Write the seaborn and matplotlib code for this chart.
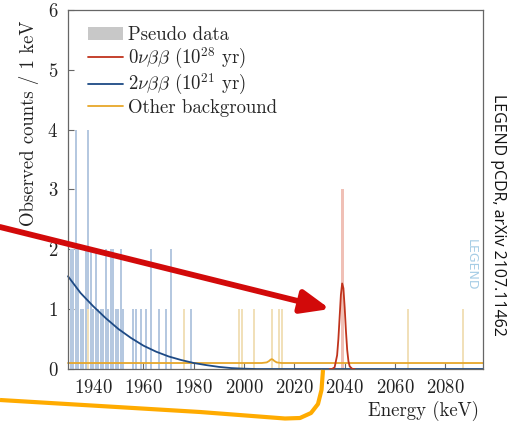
import numpy as np
import pandas as pd
import seaborn as sns
import matplotlib
matplotlib.use("Agg")
import matplotlib.pyplot as plt
from matplotlib.lines import Line2D
from matplotlib.patches import Patch, FancyArrowPatch

# ---------------- data ----------------
# 2vbb-like pseudo data (counts per 1 keV bin)
bb2_energy = [1930, 1931, 1932, 1933, 1934, 1935, 1936, 1937, 1938, 1939,
              1940, 1941, 1942, 1943, 1944, 1945, 1946, 1947, 1948, 1949,
              1950, 1951, 1952, 1956, 1957, 1959, 1961, 1963, 1966, 1969,
              1971, 1979]
bb2_counts = [2, 2, 2, 4, 2, 1, 1, 2, 4, 2,
              1, 2, 1, 1, 1, 2, 1, 2, 2, 1,
              1, 2, 1, 1, 1, 1, 1, 2, 1, 1,
              2, 1]
# other-background pseudo data
bkg_energy = [1938, 1976, 1998, 1999, 2004, 2011, 2014, 2015, 2065, 2087]
bkg_counts = [1, 1, 1, 1, 1, 1, 1, 1, 1, 1]
# 0vbb pseudo data
bb0_energy = [2039]
bb0_counts = [3]

# model curves
bb2_curve_x = [1930, 1935, 1940, 1945, 1950, 1955, 1960, 1965, 1970, 1975,
               1980, 1985, 1990, 1995, 2000, 2005, 2095]
bb2_curve_y = [1.55, 1.27, 1.05, 0.85, 0.67, 0.52, 0.39, 0.29, 0.21, 0.15,
               0.10, 0.065, 0.035, 0.015, 0.005, 0.0, 0.0]
bb0_curve_x = [2034, 2035, 2036, 2037, 2037.5, 2038, 2038.5, 2039, 2039.5,
               2040, 2040.5, 2041, 2041.5, 2042, 2043, 2044]
bb0_curve_y = [0.0, 0.001, 0.027, 0.23, 0.50, 0.87, 1.24, 1.43, 1.35,
               1.03, 0.64, 0.32, 0.13, 0.044, 0.003, 0.0]
bkg_curve_x = [1930, 2007, 2009, 2010, 2010.5, 2011, 2011.5, 2012, 2013, 2015, 2095]
bkg_curve_y = [0.10, 0.10, 0.11, 0.135, 0.155, 0.165, 0.155, 0.135, 0.11, 0.10, 0.10]

x_ticks = [1940, 1960, 1980, 2000, 2020, 2040, 2060, 2080]
y_ticks = [0, 1, 2, 3, 4, 5, 6]

legend_labels = ["Pseudo data", r"$0\nu\beta\beta$ ($10^{28}$ yr)",
                 r"$2\nu\beta\beta$ ($10^{21}$ yr)", "Other background"]

# ---------------- style ----------------
sns.set_theme(style="ticks")
plt.rcParams.update({
    "font.family": ["cmr10", "DejaVu Serif"],
    "mathtext.fontset": "cm",
    "axes.formatter.use_mathtext": True,
    "axes.unicode_minus": False,
})

RED = "#c0331c"
BLUE = "#1d4a85"
ORANGE = "#e7a72a"
FS = 13.5

fig = plt.figure(figsize=(5.1, 4.25), dpi=100)
W, H = 510, 425
ax = fig.add_axes([68 / W, (H - 369) / H, 415 / W, 359 / H])

sns.histplot(x=bb2_energy, weights=bb2_counts, discrete=True, shrink=0.8,
             color="#b5c8e0", alpha=1, linewidth=0, ax=ax)
sns.histplot(x=bkg_energy, weights=bkg_counts, discrete=True, shrink=0.8,
             color="#f1e0b9", alpha=1, linewidth=0, ax=ax)
sns.histplot(x=bb0_energy, weights=bb0_counts, discrete=True, shrink=1.2,
             color="#f0c0b6", alpha=1, linewidth=0, ax=ax)

sns.lineplot(x=bkg_curve_x, y=bkg_curve_y, color=ORANGE, lw=1.3, ax=ax, sort=False)
sns.lineplot(x=bb2_curve_x, y=bb2_curve_y, color=BLUE, lw=1.3, ax=ax, sort=False)
sns.lineplot(x=bb0_curve_x, y=bb0_curve_y, color=RED, lw=1.3, ax=ax, sort=False)
for ln in ax.lines:
    ln.set_clip_on(False)

ax.set_xlim(1930, 2095)
ax.set_ylim(0, 6)
ax.set_xticks(x_ticks)
ax.set_yticks(y_ticks)
ax.tick_params(direction="in", length=4, width=0.8, color="#666666",
               labelsize=FS, pad=7, labelcolor="#222222")
for sp in ax.spines.values():
    sp.set_color("#666666")
    sp.set_linewidth(0.9)

ax.set_ylabel("Observed counts / 1 keV", fontsize=FS, color="#222222")
ax.yaxis.set_label_coords(-0.07, 0.685)
ax.set_xlabel("Energy (keV)", fontsize=FS, color="#222222")
ax.xaxis.set_label_coords(0.857, -0.089)

handles = [Patch(facecolor="#c8c8c8", edgecolor="none"),
           Line2D([], [], color=RED, lw=1.3),
           Line2D([], [], color=BLUE, lw=1.3),
           Line2D([], [], color=ORANGE, lw=1.3)]
ax.legend(handles, legend_labels, loc="upper left",
          bbox_to_anchor=(0.048, 0.955), frameon=False, fontsize=FS,
          handlelength=1.85, handletextpad=0.3, labelspacing=0.08,
          borderpad=0, borderaxespad=0)

# faint logo
ax.text(0.971, 0.29, "LEGEND", transform=ax.transAxes, rotation=-90,
        ha="center", va="center", fontsize=9, color="#8fc0df", alpha=0.8,
        family="DejaVu Sans")

# side credit
fig.text(498 / W, 1 - 215 / H, "LEGEND pCDR, arXiv 2107.11462", rotation=-90,
         ha="center", va="center", fontsize=11.5, family="Open Sans", color="#111111")

# red arrow (figure pixels, y from top)
def fp(x, y):
    return (x / W, 1 - y / H)

arrow = FancyArrowPatch(fp(0, 227), fp(330, 309), transform=fig.transFigure,
                        arrowstyle="-|>,head_length=17,head_width=7",
                        mutation_scale=1, lw=4.2, color="#d20a0a",
                        shrinkA=0, shrinkB=0)
fig.add_artist(arrow)

# orange swoosh
ox = [0, 100, 200, 285, 300, 311, 318, 321.5, 323]
oy = [400, 406, 412, 418.5, 418, 413, 404, 390, 370]
fig.add_artist(Line2D([x / W for x in ox], [1 - y / H for y in oy],
                      transform=fig.transFigure, color="#ffab00", lw=3,
                      solid_capstyle="butt", solid_joinstyle="round"))

fig.savefig("out.png", dpi=100)
